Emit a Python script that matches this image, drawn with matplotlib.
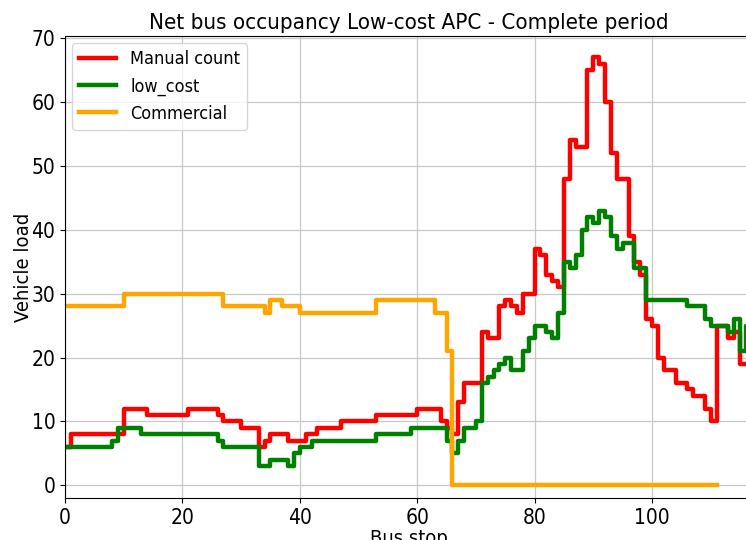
import matplotlib
matplotlib.use("Agg")
import matplotlib.pyplot as plt
from matplotlib import font_manager as fm

# ---------------- data ----------------
title = "Net bus occupancy Low-cost APC - Complete period"
x_label = "Bus stop"
y_label = "Vehicle load"
series_names = ["Manual count", "low_cost", "Commercial"]
series_colors = ["red", "green", "orange"]

manual_count = [
    6, 8, 8, 8, 8, 8, 8, 8, 8, 8,           # 0-9
    12, 12, 12, 12, 11, 11, 11, 11, 11, 11,  # 10-19
    11, 12, 12, 12, 12, 12, 11, 10, 10, 10,  # 20-29
    9, 9, 9, 6, 7, 8, 8, 8, 7, 7,            # 30-39
    7, 8, 8, 9, 9, 9, 9, 10, 10, 10,         # 40-49
    10, 10, 10, 11, 11, 11, 11, 11, 11, 11,  # 50-59
    12, 12, 12, 12, 10, 9, 8, 13, 16, 16,    # 60-69
    16, 24, 23, 23, 28, 29, 28, 27, 30, 30,  # 70-79
    37, 36, 33, 32, 31, 48, 54, 53, 53, 65,  # 80-89
    67, 66, 60, 52, 48, 48, 39, 35, 33, 26,  # 90-99
    25, 20, 18, 18, 16, 16, 15, 14, 14, 12,  # 100-109
    10, 25, 25, 23, 24, 19, 19, 19,          # 110-117
]

low_cost = [
    6, 6, 6, 6, 6, 6, 6, 6, 7, 9,            # 0-9
    9, 9, 9, 8, 8, 8, 8, 8, 8, 8,            # 10-19
    8, 8, 8, 8, 8, 8, 7, 6, 6, 6,            # 20-29
    6, 6, 6, 3, 3, 4, 4, 4, 3, 5,            # 30-39
    6, 6, 7, 7, 7, 7, 7, 7, 7, 7,            # 40-49
    7, 7, 7, 8, 8, 8, 8, 8, 8, 9,            # 50-59
    9, 9, 9, 9, 9, 7, 5, 7, 9, 9,            # 60-69
    10, 16, 17, 18, 19, 20, 18, 18, 21, 23,  # 70-79
    25, 25, 24, 23, 27, 35, 34, 36, 40, 42,  # 80-89
    41, 43, 42, 39, 37, 38, 38, 34, 34, 29,  # 90-99
    29, 29, 29, 29, 29, 29, 28, 28, 28, 26,  # 100-109
    25, 25, 25, 24, 26, 21, 25, 25,          # 110-117
]

commercial = [
    28, 28, 28, 28, 28, 28, 28, 28, 28, 28,  # 0-9
    30, 30, 30, 30, 30, 30, 30, 30, 30, 30,  # 10-19
    30, 30, 30, 30, 30, 30, 30, 28, 28, 28,  # 20-29
    28, 28, 28, 28, 27, 29, 29, 28, 28, 28,  # 30-39
    27, 27, 27, 27, 27, 27, 27, 27, 27, 27,  # 40-49
    27, 27, 27, 29, 29, 29, 29, 29, 29, 29,  # 50-59
    29, 29, 29, 27, 27, 21, 0, 0, 0, 0,      # 60-69
    0, 0, 0, 0, 0, 0, 0, 0, 0, 0,            # 70-79
    0, 0, 0, 0, 0, 0, 0, 0, 0, 0,            # 80-89
    0, 0, 0, 0, 0, 0, 0, 0, 0, 0,            # 90-99
    0, 0, 0, 0, 0, 0, 0, 0, 0, 0,            # 100-109
    0, 0,                                    # 110-111
]

x_ticks = [0, 20, 40, 60, 80, 100]
y_ticks = [0, 10, 20, 30, 40, 50, 60, 70]

# ---------------- fonts ----------------
family = "DejaVu Sans"
stretch = "normal"
for f in fm.fontManager.ttflist:
    if f.name == "DejaVu Sans" and str(f.stretch) in ("condensed", "semi-condensed", "75", "87"):
        stretch = "condensed"
        break
plt.rcParams["font.family"] = [family]
plt.rcParams["font.stretch"] = stretch

# ---------------- figure ----------------
W, H = 746, 540
fig = plt.figure(figsize=(W / 100, H / 100), dpi=100)
ax_left, ax_right = 65 / W, 753 / W
ax_bottom, ax_top = 1 - 498 / H, 1 - 36 / H
ax = fig.add_axes([ax_left, ax_bottom, ax_right - ax_left, ax_top - ax_bottom])

data = [manual_count, low_cost, commercial]
for vals, name, col in zip(data, series_names, series_colors):
    xs = list(range(len(vals)))
    ax.step(xs, vals, where="post", color=col, lw=3.2, label=name)

ax.set_xlim(0, 117.2)
ax.set_ylim(-2, 70.35)
ax.set_xticks(x_ticks)
ax.set_yticks(y_ticks)
ax.grid(True, color="#c8c8c8", lw=0.9)
ax.set_axisbelow(True)
ax.tick_params(labelsize=15)

ax.set_title(title, fontsize=16, pad=5)
ax.set_xlabel(x_label, fontsize=14.5, labelpad=1)
ax.set_ylabel(y_label, fontsize=14.5)
ax.yaxis.set_label_coords(-0.047, 0.5)

leg = ax.legend(loc="upper left", fontsize=13, handlelength=2.0,
                borderaxespad=0.4, framealpha=0.8)

fig.savefig("out.png", dpi=100)
